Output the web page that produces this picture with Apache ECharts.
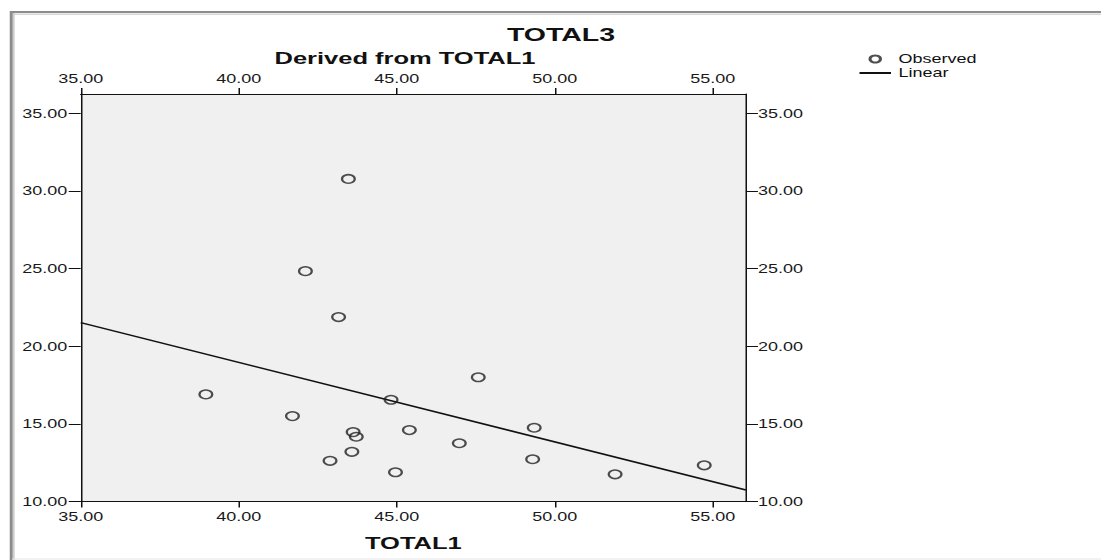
<!DOCTYPE html>
<html>
<head>
<meta charset="utf-8">
<script src="https://cdn.jsdelivr.net/npm/echarts@6/dist/echarts.min.js"></script>
<style>
html,body{margin:0;padding:0;background:#fff;overflow:hidden;}
#wrap{width:1101px;height:560px;overflow:hidden;position:relative;background:#fff;}
#chart{width:734px;height:560px;transform:scaleX(1.5);transform-origin:0 0;}
</style>
</head>
<body>
<div id="wrap"><div id="chart"></div></div>
<script>
// ---- data ----
const xTicks = [35, 40, 45, 50, 55];
const yTicks = [10, 15, 20, 25, 30, 35];
const observedX = [43.47, 42.11, 43.16, 47.58, 38.96, 44.82, 41.70, 43.62, 43.72, 45.40, 49.35, 46.98, 43.58, 42.89, 49.30, 44.96, 51.91, 54.73];
const observedY = [30.78, 24.84, 21.88, 18.00, 16.90, 16.55, 15.50, 14.47, 14.17, 14.60, 14.75, 13.75, 13.20, 12.62, 12.72, 11.88, 11.75, 12.33];
const linearX = [35, 56.05];
const linearY = [21.52, 10.74];
const titleText = 'TOTAL3';
const subtitleText = 'Derived from TOTAL1';
const xName = 'TOTAL1';
const seriesNames = ['Observed', 'Linear'];

// ---- chart ----
const X_MIN = 35, X_MAX = 56.05, Y_MIN = 10, Y_MAX = 36.25;
const FONT = 'Liberation Sans, Arial, sans-serif';
const INK = '#111';
const fmt = v => Number(v).toFixed(2);

function xAxisCfg(pos, extra) {
  return Object.assign({
    type: 'value', position: pos, min: X_MIN, max: X_MAX,
    axisLine: { show: true, onZero: false, lineStyle: { color: INK, width: 1 } },
    axisTick: { show: true, inside: false, length: 6, customValues: xTicks, lineStyle: { color: INK, width: 1 } },
    axisLabel: { show: true, margin: 9, customValues: xTicks, formatter: fmt, fontFamily: FONT, fontSize: 12, color: '#1a1a1a' },
    splitLine: { show: false }
  }, extra || {});
}
function yAxisCfg(pos, extra) {
  return Object.assign({
    type: 'value', position: pos, min: Y_MIN, max: Y_MAX,
    axisLine: { show: true, onZero: false, lineStyle: { color: INK, width: 1 } },
    axisTick: { show: true, inside: false, length: 8, customValues: yTicks, lineStyle: { color: INK, width: 1 } },
    axisLabel: { show: true, margin: 9, customValues: yTicks, formatter: fmt, fontFamily: FONT, fontSize: 12, color: '#1a1a1a' },
    splitLine: { show: false }
  }, extra || {});
}

const chart = echarts.init(document.getElementById('chart'), null, { renderer: 'svg' });
chart.setOption({
  animation: false,
  backgroundColor: '#fff',
  title: [
    { text: titleText, left: 374, top: 25, textAlign: 'center', padding: 0,
      textStyle: { fontFamily: FONT, fontSize: 19, fontWeight: 'bold', color: INK } },
    { text: subtitleText, left: 270, top: 50, textAlign: 'center', padding: 0,
      textStyle: { fontFamily: FONT, fontSize: 17, fontWeight: 'bold', color: INK } }
  ],
  legend: {
    orient: 'vertical', left: 572, top: 52, padding: 0, itemGap: 0,
    itemWidth: 21, itemHeight: 7, selectedMode: false,
    data: [
      { name: seriesNames[0] },
      { name: seriesNames[1], itemStyle: { color: 'rgba(0,0,0,0)', borderWidth: 0, opacity: 0 } }
    ],
    textStyle: { fontFamily: FONT, fontSize: 12, color: INK, lineHeight: 14 }
  },
  grid: {
    left: 53.8, right: 236.7, top: 94, bottom: 58.5,
    show: true, backgroundColor: '#F0F0F0', borderWidth: 0, containLabel: false
  },
  xAxis: [
    xAxisCfg('bottom', { name: xName, nameLocation: 'middle', nameGap: 33,
      nameTextStyle: { fontFamily: FONT, fontSize: 17, fontWeight: 'bold', color: INK } }),
    xAxisCfg('top')
  ],
  yAxis: [
    yAxisCfg('left'),
    yAxisCfg('right', { axisLabel: { show: true, margin: 8, customValues: yTicks, formatter: fmt, fontFamily: FONT, fontSize: 12, color: '#1a1a1a' } })
  ],
  graphic: [
    { type: 'line', silent: true, shape: { x1: 7, y1: 12, x2: 734, y2: 12 }, style: { stroke: '#8c8c8c', lineWidth: 2 } },
    { type: 'line', silent: true, shape: { x1: 8, y1: 14.2, x2: 734, y2: 14.2 }, style: { stroke: '#d6d6d6', lineWidth: 1.5 } },
    { type: 'line', silent: true, shape: { x1: 7.5, y1: 11, x2: 7.5, y2: 560 }, style: { stroke: '#8c8c8c', lineWidth: 2 } },
    { type: 'line', silent: true, shape: { x1: 9.2, y1: 13, x2: 9.2, y2: 560 }, style: { stroke: '#cfcfcf', lineWidth: 1.2 } },
    { type: 'line', silent: true, shape: { x1: 8, y1: 559, x2: 734, y2: 559 }, style: { stroke: '#e6e6e6', lineWidth: 1 } }
  ],
  series: [
    {
      name: seriesNames[0], type: 'scatter', xAxisIndex: 0, yAxisIndex: 0,
      symbol: 'circle', symbolSize: 8.5, silent: true,
      itemStyle: { color: 'rgba(0,0,0,0)', borderColor: '#222', borderWidth: 1.5 },
      emphasis: { disabled: true },
      data: observedX.map((x, i) => [x, observedY[i]]),
      z: 3
    },
    {
      name: seriesNames[1], type: 'line', xAxisIndex: 0, yAxisIndex: 0,
      showSymbol: false, symbol: 'none', silent: true,
      lineStyle: { color: INK, width: 1.5 }, itemStyle: { color: INK },
      emphasis: { disabled: true },
      data: linearX.map((x, i) => [x, linearY[i]]),
      z: 2
    }
  ]
});
</script>
</body>
</html>
